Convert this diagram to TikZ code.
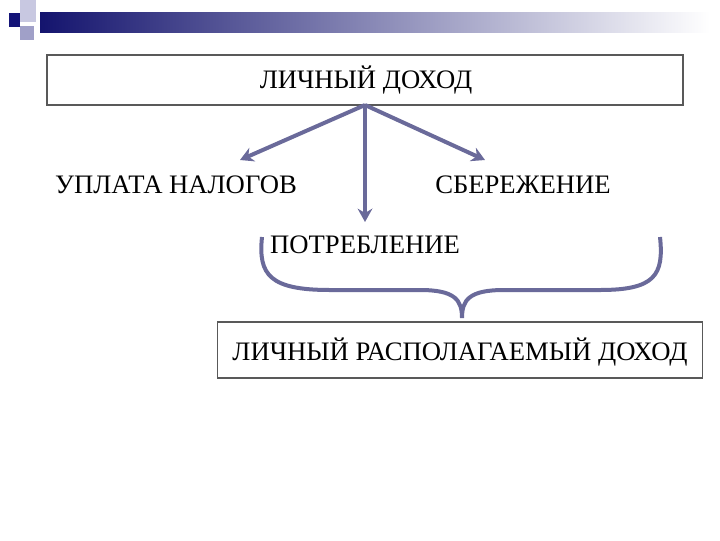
\documentclass[tikz,border=0pt]{standalone}
\usepackage{fontspec}
\setmainfont{Liberation Serif}
\usetikzlibrary{arrows.meta}
\definecolor{arrc}{RGB}{106,106,154}
\definecolor{sq1}{RGB}{200,200,225}
\definecolor{sq2}{RGB}{160,160,200}
\definecolor{sq3}{RGB}{20,20,120}
\definecolor{barc}{RGB}{20,20,110}
\begin{document}
\begin{tikzpicture}[x=0.75pt,y=-0.75pt,
  lbl/.style={font=\fontsize{20}{22}\selectfont, inner sep=0},
  box/.style={draw=black!65, line width=1.2pt},
  arr/.style={draw=arrc, line width=3pt, -{Stealth[length=10pt,width=11pt]}}]
\useasboundingbox (0,0) rectangle (720,540);
\shade[left color=barc, right color=white] (40,12) rectangle (710,32);
\fill[sq1] (20,0) rectangle (36,22);
\fill[sq2] (20,26) rectangle (34,40);
\fill[sq3] (9,13) rectangle (20,27);
\node[box, minimum width=636*0.75pt, minimum height=50*0.75pt, inner sep=0] (top) at (365,80) {};
\node[lbl] (t1) at (366,80) {ЛИЧНЫЙ ДОХОД};
\node[lbl] (tax) at (176,185) {УПЛАТА НАЛОГОВ};
\node[lbl] (sav) at (523,185) {СБЕРЕЖЕНИЕ};
\node[lbl] (cons) at (365,245) {ПОТРЕБЛЕНИЕ};
\coordinate (o) at (365,105);
\coordinate (a1) at (240,160);
\coordinate (a2) at (365,222);
\coordinate (a3) at (485,160);
\draw[arr] (o) -- (a1);
\draw[arr] (o) -- (a2);
\draw[arr] (o) -- (a3);
\draw[arrc, line width=3pt]
  (262,237) .. controls (258,275) and (270,290) .. (330,290)
  -- (420,290) .. controls (455,290) and (462,300) .. (462,318)
  .. controls (462,300) and (469,290) .. (504,290)
  -- (600,290) .. controls (655,290) and (664,275) .. (660,237);
\node[box, minimum width=485*0.75pt, minimum height=56*0.75pt, inner sep=0] (bot) at (460,350) {};
\node[lbl] (b1) at (460,352) {ЛИЧНЫЙ РАСПОЛАГАЕМЫЙ ДОХОД};
\end{tikzpicture}
\end{document}
